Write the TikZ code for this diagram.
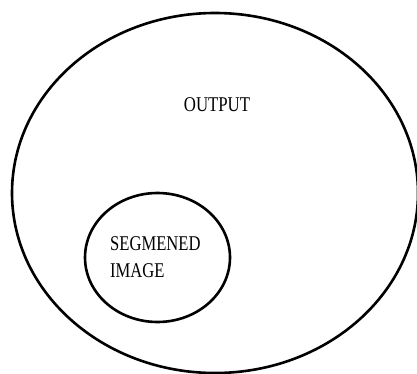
\documentclass[tikz,border=0pt]{standalone}
\usepackage{fontspec}
\setmainfont{Liberation Serif}
\begin{document}
\begin{tikzpicture}[x=1pt,y=-1pt,
  ring/.style={draw=black,line width=2.6pt,ellipse},
  lbl/.style={inner sep=0pt,font=\fontsize{21}{25}\selectfont}]
\useasboundingbox (0,0) rectangle (417,374);
\draw[line width=2.6pt] (215,193) ellipse [x radius=203, y radius=180];
\draw[line width=2.6pt] (157.5,257.5) ellipse [x radius=72.5, y radius=64.5];
\node[lbl,anchor=base] (out) at (217,112) {\scalebox{0.8}[1]{OUTPUT}};
\node[lbl,anchor=base west] (seg) at (110,250) {\scalebox{0.79}[1]{SEGMENED}};
\node[lbl,anchor=base west] (img) at (110,277) {\scalebox{0.79}[1]{IMAGE}};
\end{tikzpicture}
\end{document}
